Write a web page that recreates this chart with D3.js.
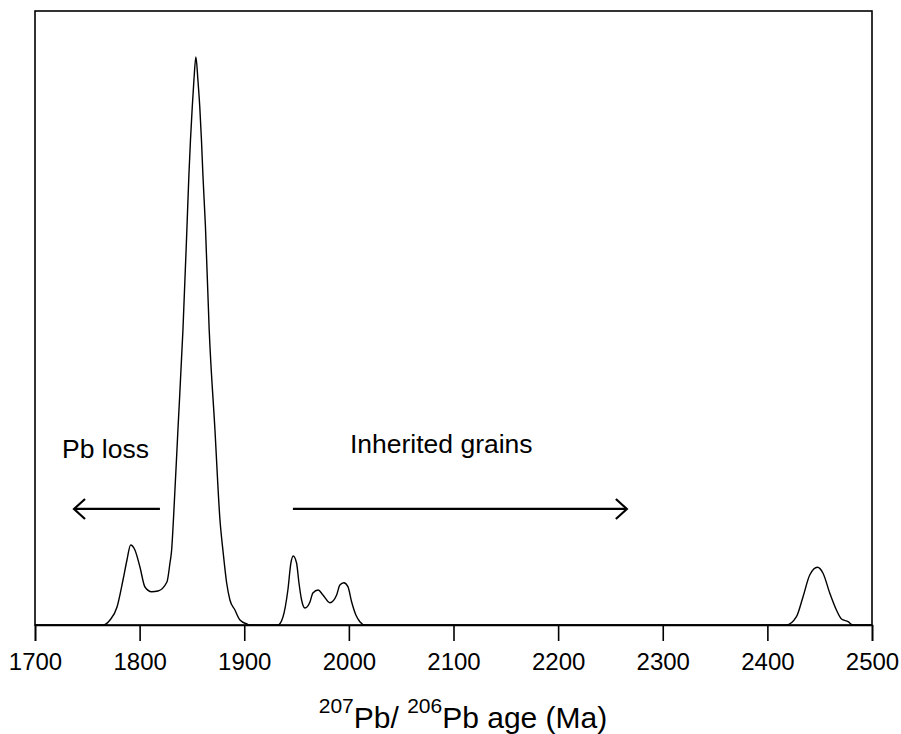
<!DOCTYPE html>
<html>
<head>
<meta charset="utf-8">
<script src="https://cdn.jsdelivr.net/npm/d3@7"></script>
<style>
  html, body { margin: 0; padding: 0; background: #fff; }
  svg { display: block; }
  text { font-family: "Liberation Sans", Arial, Helvetica, sans-serif; fill: #000; }
</style>
</head>
<body>
<svg id="chart" width="901" height="734"></svg>
<script>
// ---- data (age in Ma, relative probability) ----
const ages = [1700, 1764, 1765, 1771.7, 1778.4, 1784.1, 1787.9, 1791.4, 1795.5, 1800.3, 1805.1, 1811.5, 1817.5,
  1826.1, 1829.0, 1830.6, 1832.3, 1836.6, 1841.4, 1845.2, 1847.1, 1848.6, 1850.3, 1851.9, 1853.8, 1855.7,
  1857.5, 1859.1, 1860.5, 1862.9, 1866.5, 1872.0, 1876.8, 1879.9, 1883.2, 1886.3, 1891.1, 1895.9, 1902.6, 1905.4,
  1932.2, 1937.0, 1941.7, 1944.6, 1946.8, 1950.0, 1952.3, 1954.8, 1958.0, 1962.8, 1965.6, 1970.7, 1975.2,
  1981.9, 1988.3, 1991.4, 1995.2, 1999.1, 2002.6, 2006.7, 2010.5, 2015.3,
  2418.2, 2427.8, 2434.1, 2440.5, 2447.9, 2453.2, 2459.6, 2466.0, 2470.8, 2477.1, 2481.9, 2500];
const density = [0, 0, 0, 0.81, 2.93, 7.33, 10.59, 13.03, 12.21, 9.45, 6.19, 5.42, 5.54,
  7.00, 10.10, 12.21, 17.10, 31.76, 48.05, 64.58, 73.29, 78.99, 84.36, 88.76, 92.51, 88.76,
  84.36, 78.99, 73.29, 64.90, 48.05, 31.76, 17.10, 11.73, 6.84, 4.07, 2.44, 0.81, 0.16, 0,
  0, 1.30, 5.70, 10.10, 11.24, 10.10, 6.84, 4.07, 2.77, 3.75, 5.21, 5.70, 4.89,
  3.63, 4.89, 6.51, 6.89, 6.24, 3.79, 1.63, 0.54, 0,
  0, 1.35, 4.61, 8.14, 9.40, 8.42, 5.21, 2.44, 0.98, 0.54, 0, 0];
const xTicks = [1700, 1800, 1900, 2000, 2100, 2200, 2300, 2400, 2500];
const annotations = ["Pb loss", "Inherited grains"];
const annotationAge = [1725.8, 2001.0];
const annotationLevel = [27.2, 28.0];
const arrowFrom = [1819.4, 1946.5];
const arrowTo = [1737.3, 2265.7];
const arrowLevel = [18.9, 18.9];

// ---- layout ----
const L = 35, R = 872, T = 11, B = 625;
const svg = d3.select("#chart");
const x = d3.scaleLinear().domain([1700, 2500]).range([L, R]);
const y = d3.scaleLinear().domain([0, 100]).range([B, T]);

// frame
svg.append("rect").attr("x", L).attr("y", T).attr("width", R - L).attr("height", B - T)
  .attr("fill", "none").attr("stroke", "#000").attr("stroke-width", 1.6);

// x axis
const xAxis = d3.axisBottom(x).tickValues(xTicks).tickFormat(d3.format("d")).tickSize(16).tickPadding(12);
const gx = svg.append("g").attr("transform", `translate(0,${B})`).call(xAxis);
gx.select(".domain").attr("stroke", "#000").attr("stroke-width", 1.6);
gx.selectAll(".tick line").attr("stroke", "#000").attr("stroke-width", 1.6);
gx.selectAll(".tick text").attr("font-size", 24).attr("font-family", '"Liberation Sans", Arial, sans-serif').attr("fill", "#000");

// curve
const pts = ages.map((a, i) => [a, density[i]]);
const line = d3.line().x(d => x(d[0])).y(d => y(d[1])).curve(d3.curveMonotoneX);
svg.append("path").datum(pts).attr("d", line).attr("fill", "none")
  .attr("stroke", "#000").attr("stroke-width", 1.4);

// annotations
annotations.forEach((t, i) => {
  svg.append("text").attr("x", x(annotationAge[i])).attr("y", y(annotationLevel[i]))
    .attr("font-size", 26.5).text(t);
  const x0 = x(arrowFrom[i]), x1 = x(arrowTo[i]), yy = y(arrowLevel[i]);
  const dir = x1 > x0 ? -1 : 1;
  svg.append("line").attr("x1", x0).attr("x2", x1).attr("y1", yy).attr("y2", yy)
    .attr("stroke", "#000").attr("stroke-width", 2.2);
  svg.append("path")
    .attr("d", `M${x1 + dir * 11},${yy - 10} L${x1},${yy} L${x1 + dir * 11},${yy + 10}`)
    .attr("fill", "none").attr("stroke", "#000").attr("stroke-width", 2.2);
});

// x axis title
const title = svg.append("text").attr("x", 463).attr("y", 728).attr("text-anchor", "middle").attr("font-size", 30);
title.append("tspan").attr("font-size", 21).attr("dy", -15).text("207");
title.append("tspan").attr("dy", 15).text("Pb/ ");
title.append("tspan").attr("font-size", 21).attr("dy", -15).text("206");
title.append("tspan").attr("dy", 15).text("Pb age (Ma)");
</script>
</body>
</html>
